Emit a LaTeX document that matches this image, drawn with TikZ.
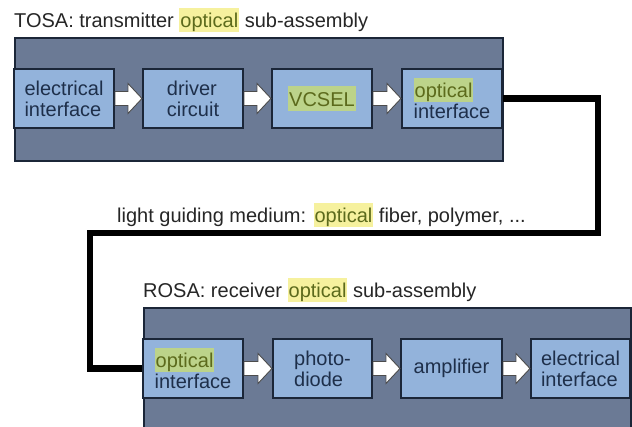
\documentclass[tikz,border=0pt]{standalone}
\usepackage{fontspec}
\setmainfont{Liberation Sans}
\usetikzlibrary{calc}

\definecolor{housing}{HTML}{6B7A95}
\definecolor{block}{HTML}{93B3DB}
\definecolor{edge}{HTML}{1B2638}
\definecolor{labeltext}{HTML}{1E2F4A}
\definecolor{captext}{HTML}{262626}
\definecolor{hlpaper}{HTML}{F6F19E}
\definecolor{hlblock}{HTML}{BCD38A}
\definecolor{optictext}{HTML}{5C6A1C}

% highlighted word: marker colour, word
\newcommand\markword[2]{{\setlength\fboxsep{0pt}\colorbox{#1}{\kern1pt\color{optictext}\rule[-4.5pt]{0pt}{24.5pt}#2\kern1pt}}}

% white block arrow from one block to the next
\newcommand\flowarrow[2]{%
  \draw[arrowbody] ([yshift=7pt]#1.east) -- ([xshift=-14pt,yshift=7pt]#2.west)
    -- ([xshift=-14pt,yshift=15pt]#2.west) -- (#2.west)
    -- ([xshift=-14pt,yshift=-15pt]#2.west) -- ([xshift=-14pt,yshift=-7pt]#2.west)
    -- ([yshift=-7pt]#1.east) -- cycle;}

\tikzset{
  housingbox/.style={draw=edge, line width=2pt, fill=housing, inner sep=0pt, anchor=north west},
  blockbox/.style={draw=edge, line width=2pt, fill=block, inner sep=0pt,
    minimum height=59pt, text=labeltext, align=left,
    font=\fontsize{20}{21}\selectfont},
  caption/.style={anchor=base west, inner sep=0pt, text=captext,
    font=\fontsize{20}{21}\selectfont},
  arrowbody/.style={draw=black!70, line width=0.9pt, fill=white, line join=miter},
  fiber/.style={line width=6.5pt, draw=black, line join=miter}
}

\begin{document}
\begin{tikzpicture}[x=1pt, y=-1pt]
  \useasboundingbox (0,0) rectangle (632,427);
  \clip (0,0) rectangle (632,427);
  \fill[white] (0,0) rectangle (632,427);

  % captions
  \node[caption] (tosatitle) at (14,28) {TOSA: transmitter \markword{hlpaper}{optical} sub-assembly};
  \node[caption] (medium) at (117,223) {light guiding medium: \markword{hlpaper}{optical} fiber, polymer, ...};
  \node[caption] (rosatitle) at (143,298) {ROSA: receiver \markword{hlpaper}{optical} sub-assembly};

  % housings
  \node[housingbox, minimum width=488pt, minimum height=123pt] (tosa) at (14,37) {};
  \node[housingbox, minimum width=487pt, minimum height=150pt] (rosa) at (143,307) {};

  % fiber route between the two sub-assemblies
  \coordinate (bendR) at (598,233);
  \coordinate (bendL) at (90,233);

  % transmitter blocks
  \node[blockbox, minimum width=100pt] (t1) at (64,98.5) {electrical\\interface};
  \node[blockbox, minimum width=100pt] (t2) at (193,98.5) {driver\\circuit};
  \node[blockbox, minimum width=100pt] (t3) at (322,98.5) {\markword{hlblock}{VCSEL}};
  \node[blockbox, minimum width=100pt] (t4) at (452,98.5) {\markword{hlblock}{optical}\\interface};

  % receiver blocks
  \node[blockbox, minimum width=100pt] (r1) at (193,368.5) {\markword{hlblock}{optical}\\interface};
  \node[blockbox, minimum width=99pt] (r2) at (322.5,368.5) {photo-\\diode};
  \node[blockbox, minimum width=101pt] (r3) at (451.5,368.5) {amplifier};
  \node[blockbox, minimum width=99pt] (r4) at (580.5,368.5) {electrical\\interface};

  \draw[fiber] (t4.east) -| (bendR) -- (bendL) |- (r1.west);

  \flowarrow{t1}{t2}
  \flowarrow{t2}{t3}
  \flowarrow{t3}{t4}
  \flowarrow{r1}{r2}
  \flowarrow{r2}{r3}
  \flowarrow{r3}{r4}
\end{tikzpicture}
\end{document}
